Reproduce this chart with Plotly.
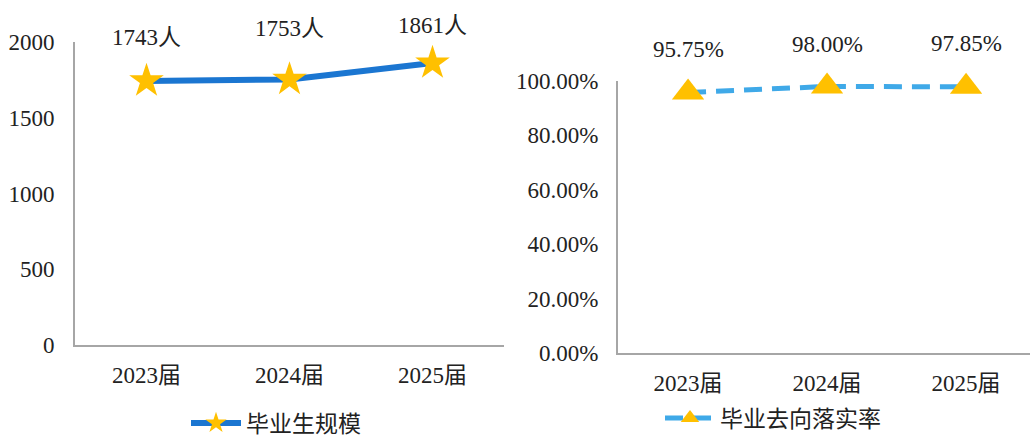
import plotly.graph_objects as go

categories = ["2023届", "2024届", "2025届"]
graduates = [1743, 1753, 1861]
grad_labels = ["1743人", "1753人", "1861人"]
rate = [0.9575, 0.9800, 0.9785]
rate_labels = ["95.75%", "98.00%", "97.85%"]
left_ticks = [0, 500, 1000, 1500, 2000]
right_ticks = [0, 0.2, 0.4, 0.6, 0.8, 1.0]
right_tick_text = ["0.00%", "20.00%", "40.00%", "60.00%", "80.00%", "100.00%"]

FONT = "Liberation Serif, Times New Roman, Noto Sans CJK SC, serif"
CJK = "Noto Sans CJK SC, sans-serif"
AX = "#A6A6A6"

fig = go.Figure()
fig.add_trace(go.Scatter(
    x=categories, y=graduates, mode="lines+markers", name="毕业生规模",
    line=dict(color="#1B76D1", width=6),
    marker=dict(symbol="star", size=26, color="#FFC000", line=dict(width=0)),
    xaxis="x", yaxis="y", legend="legend", cliponaxis=False,
))
fig.add_trace(go.Scatter(
    x=categories, y=rate, mode="lines+markers", name="毕业去向落实率",
    line=dict(color="#3FA9E8", width=5, dash="18px,10px"),
    marker=dict(symbol="triangle-up", size=28, color="#FFC000", line=dict(width=0)),
    xaxis="x2", yaxis="y2", legend="legend2", cliponaxis=False,
))

ann = []
left_shift = [43, 51, 38]
right_shift = [43, 42, 43]
for c, v, t, s in zip(categories, graduates, grad_labels, left_shift):
    ann.append(dict(x=c, y=v, xref="x", yref="y", text=t, showarrow=False,
                    yshift=s, font=dict(family=FONT, size=23, color="#222")))
for c, v, t, s in zip(categories, rate, rate_labels, right_shift):
    ann.append(dict(x=c, y=v, xref="x2", yref="y2", text=t, showarrow=False,
                    yshift=s, font=dict(family=FONT, size=23, color="#222")))

W, H = 1030, 438
tickfont = dict(family=FONT, size=23, color="#222")
fig.update_layout(
    width=W, height=H, margin=dict(l=0, r=0, t=0, b=0, autoexpand=False),
    paper_bgcolor="white", plot_bgcolor="white",
    annotations=ann,
    xaxis=dict(domain=[75 / W, 504 / W], range=[-0.5, 2.5], showgrid=False,
               showline=True, linecolor=AX, linewidth=2, ticks="outside",
               ticklen=8, tickcolor="rgba(0,0,0,0)", tickfont=tickfont,
               anchor="y", automargin=False),
    yaxis=dict(domain=[(H - 345) / H, (H - 42) / H], range=[0, 2000],
               tickvals=left_ticks, showgrid=False, zeroline=False,
               showline=True, linecolor=AX, linewidth=2, ticks="outside",
               ticklen=14, tickcolor="rgba(0,0,0,0)", tickfont=tickfont,
               anchor="x", automargin=False),
    xaxis2=dict(domain=[618 / W, 1.0], range=[-0.504, 2.46], showgrid=False,
                showline=True, linecolor=AX, linewidth=2, ticks="outside",
                ticklen=8, tickcolor="rgba(0,0,0,0)", tickfont=tickfont,
                anchor="y2", automargin=False),
    yaxis2=dict(domain=[(H - 353) / H, (H - 81) / H], range=[0, 1.0],
                tickvals=right_ticks, ticktext=right_tick_text, showgrid=False,
                zeroline=False, showline=True, linecolor=AX, linewidth=2,
                ticks="outside", ticklen=13, tickcolor="rgba(0,0,0,0)",
                tickfont=tickfont, anchor="x2", automargin=False),
    legend=dict(x=186 / W, y=(H - 423) / H, xanchor="left", yanchor="middle",
                font=dict(family=CJK, size=23, color="#222"),
                bgcolor="rgba(0,0,0,0)", itemwidth=50),
    legend2=dict(x=660 / W, y=(H - 418) / H, xanchor="left", yanchor="middle",
                 font=dict(family=CJK, size=23, color="#222"),
                 bgcolor="rgba(0,0,0,0)", itemwidth=50),
    showlegend=True,
)
fig.write_html(
    "out.html",
    config={"displayModeBar": False},
    post_script="document.body.style.margin='0';document.body.style.overflow='hidden';",
)
